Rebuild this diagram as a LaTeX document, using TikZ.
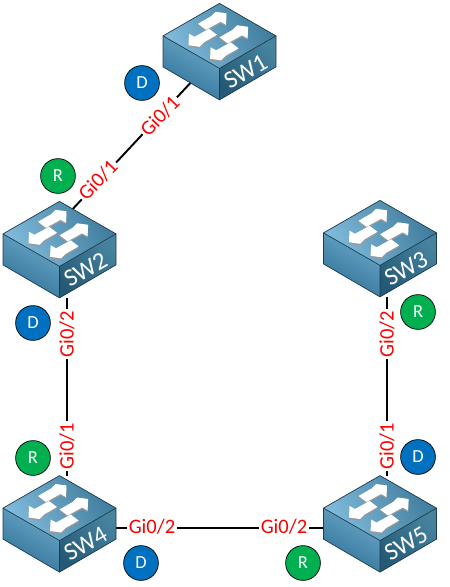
\documentclass[tikz,border=0pt]{standalone}
\usepackage{fontspec}
\setmainfont{Carlito}
\definecolor{swline}{HTML}{1C3B4E}
\definecolor{swlight}{HTML}{82BCDC}
\definecolor{swtopdark}{HTML}{3F7B9C}
\definecolor{swleftup}{HTML}{6CA9C9}
\definecolor{swleftlow}{HTML}{2F7096}
\definecolor{swrightup}{HTML}{47839F}
\definecolor{swrightlow}{HTML}{245A76}
\definecolor{desigblue}{HTML}{0070C0}
\definecolor{rootgreen}{HTML}{00B050}
\newcommand{\swarrowpath}{(19,-16)--(8,-17.5)--(3.5,-13)--(-9.5,-5.5)--(-1.5,0.5)--(13,-7.5)--(18.5,-4.5)--cycle}
\tikzset{
	swbox/.style={inner sep=0, minimum width=64pt, minimum height=54.7pt},
	link/.style={line width=1.1pt},
	port/.style={text=red, fill=white, font=\fontsize{11.7}{12}\selectfont, inner sep=1pt},
	role/.style={circle, draw=black, text=white, minimum size=19.8pt, inner sep=0, font=\fontsize{10.5}{12}\selectfont},
	swlabel/.style={text=white, font=\fontsize{14}{15}\selectfont, rotate=30, inner sep=0},
	swpic/.pic={
		% top face
		\shade[left color=swlight, right color=swtopdark, shading angle=120] (0,0)--(56.5,32.5)--(0,65)--(-56.5,32.5)--cycle;
		% left face
		\shade[top color=swleftup, bottom color=swleftlow, shading angle=-30] (-56.5,32.5)--(0,65)--(0,96.5)--(-56.5,63.5)--cycle;
		% right face
		\shade[top color=swrightup, bottom color=swrightlow, shading angle=-45] (56.5,32.5)--(0,65)--(0,96.5)--(56.5,63.5)--cycle;
		\draw[swline, line join=round] (0,0)--(56.5,32.5)--(56.5,63.5)--(0,96.5)--(-56.5,63.5)--(-56.5,32.5)--cycle;
		\draw[swline] (-56.5,32.5)--(0,65)--(56.5,32.5) (0,65)--(0,96.5);
		% arrows on the top face
		\foreach \px/\py/\sx in {-12/25.9/1, -12/25.9/-1, 9.6/39.4/1, 9.6/39.4/-1}{
			\fill[black!40, shift={(\px,\py+1.6)}, scale=\sx] \swarrowpath;
			\fill[white, shift={(\px,\py)}, scale=\sx] \swarrowpath;
		}
		\node[swlabel] (-name) at (26,68) {#1};
	}
}
\begin{document}
\begin{tikzpicture}[x=0.02cm,y=-0.02cm]
	\useasboundingbox (0,0) rectangle (449,587);
	% switches
	\node[swbox] (SW1) at (219.5,51.8) {};
	\node[swbox] (SW2) at (59.5,249.8) {};
	\node[swbox] (SW3) at (380,248.8) {};
	\node[swbox] (SW4) at (59.5,524) {};
	\node[swbox] (SW5) at (380,524) {};
	% links
	\draw[link] (SW1.center)--([yshift=-12.4pt]SW2.north);
	\draw[link] ([xshift=4.5pt]SW2.south)--([xshift=4.5pt]SW4.north);
	\draw[link] ([xshift=4pt]SW3.south)--([xshift=4pt]SW5.north);
	\draw[link] ([yshift=-2.2pt]SW4.east)--([yshift=-2.2pt]SW5.west);
	\pic (sw1) at (SW1.north) {swpic=SW1};
	\pic (sw2) at (SW2.north) {swpic=SW2};
	\pic (sw3) at (SW3.north) {swpic=SW3};
	\pic (sw4) at (SW4.north) {swpic=SW4};
	\pic (sw5) at (SW5.north) {swpic=SW5};
	% port labels
	\node[port, rotate=46] (p1a) at (160,116) {Gi0/1};
	\node[port, rotate=46] (p2a) at (98,180) {Gi0/1};
	\node[port, rotate=90] (p2b) at (67,334) {Gi0/2};
	\node[port, rotate=90] (p4a) at (67,446) {Gi0/1};
	\node[port, rotate=90] (p3b) at (387,334) {Gi0/2};
	\node[port, rotate=90] (p5a) at (387,446) {Gi0/1};
	\node[port] (p4b) at (152,527) {Gi0/2};
	\node[port] (p5b) at (284,527) {Gi0/2};
	% port roles
	\node[role, fill=desigblue] (d1) at (142,83) {D};
	\node[role, fill=rootgreen] (r2) at (58,176) {R};
	\node[role, fill=desigblue] (d2) at (33,323) {D};
	\node[role, fill=rootgreen] (r3) at (418,312) {R};
	\node[role, fill=rootgreen] (r4) at (33,458) {R};
	\node[role, fill=desigblue] (d5) at (418,457) {D};
	\node[role, fill=desigblue] (d4) at (141,563) {D};
	\node[role, fill=rootgreen] (r5) at (303,563) {R};
\end{tikzpicture}
\end{document}
